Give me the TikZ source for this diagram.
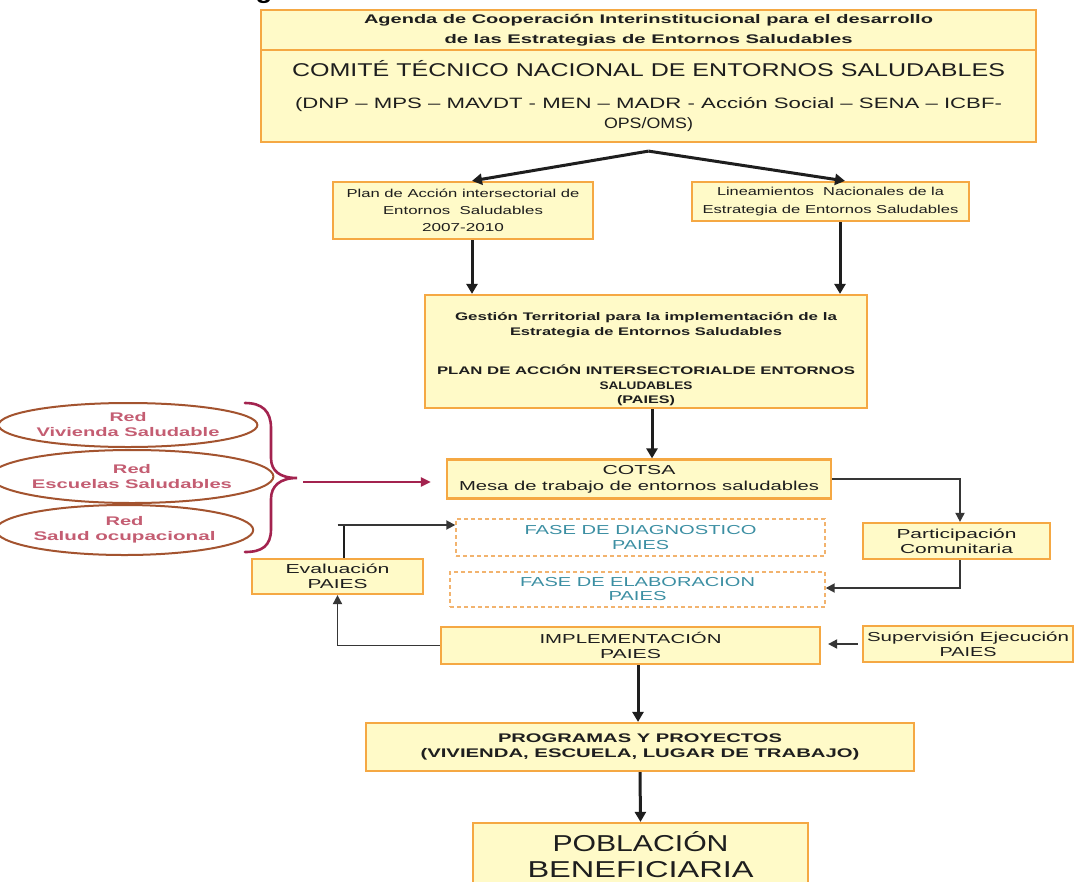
\documentclass[tikz,border=0pt]{standalone}
\usepackage{fontspec}
\setmainfont{Liberation Sans}
\usetikzlibrary{arrows.meta,shapes.geometric}

\definecolor{boxfill}{HTML}{FFFAC8}
\definecolor{boxline}{HTML}{F5A843}
\definecolor{dashline}{HTML}{F2B36E}
\definecolor{phase}{HTML}{3C8FA3}
\definecolor{netline}{HTML}{A3532F}
\definecolor{nettext}{HTML}{C45D72}
\definecolor{bracecol}{HTML}{A3234F}
\definecolor{ink}{HTML}{1E1E1E}
\definecolor{thinink}{HTML}{363636}

% scale one line of text horizontally to a given width (in pt)
\newlength\fitlen
\newcommand\fitw[2]{\settowidth\fitlen{#2}\pgfmathsetmacro\fitr{#1/\fitlen}\scalebox{\fitr}[1]{#2}}
\newcommand\fs[2]{\fontsize{#1}{#2}\selectfont}

\tikzset{
  box/.style={draw=boxline, fill=boxfill, line width=2.2pt, inner sep=0pt,
    align=center, text=ink},
  phasebox/.style={draw=dashline, fill=white, dash pattern=on 4pt off 3pt,
    line width=1.4pt, inner sep=0pt, align=center, text=phase},
  net/.style={ellipse, draw=netline, line width=2pt, inner sep=0pt,
    align=center, text=nettext, font=\bfseries\fs{12.5}{15}},
  txt/.style={inner sep=0pt, align=center, text=ink},
  main/.style={draw=ink, line width=3pt, -{Triangle[length=10pt,width=11pt]}},
  flow/.style={draw=thinink, line width=1.8pt, -{Triangle[length=9pt,width=9pt]}},
  plainline/.style={draw=ink, line width=1.6pt},
  redarrow/.style={draw=bracecol, line width=2.4pt, -{Triangle[length=10pt,width=9pt]}},
}

\begin{document}
\begin{tikzpicture}[x=1pt, y=-1pt]
\useasboundingbox (0,0) rectangle (1076,881);
\clip (0,0) rectangle (1076,881);
\fill[white] (0,0) rectangle (1076,881);

% heading, cut by the upper edge
\node[inner sep=0pt, anchor=base west, text=black, font=\bfseries\fs{24}{26}] (heading) at (25,-2)
  {\fitw{585}{Gráfico 1. Estrategia de entornos saludables}};

% upper block
\node[box, minimum width=775pt, minimum height=40pt, font=\bfseries\fs{12.5}{20}] (agenda) at (648.5,30)
  {\fitw{569}{Agenda de Cooperación Interinstitucional para el desarrollo}\\
   \fitw{408}{de las Estrategias de Entornos Saludables}};
\node[box, minimum width=775pt, minimum height=92pt, font=\fs{15}{20}] (comite) at (648.5,96)
  {{\fs{18.5}{20}\fitw{713}{COMITÉ TÉCNICO NACIONAL DE ENTORNOS SALUDABLES}}\\[11.5pt]
   \fitw{707}{(DNP – MPS – MAVDT - MEN – MADR - Acción Social – SENA – ICBF-}\\
   \fitw{89}{OPS/OMS)}};

% second level
\node[box, minimum width=260pt, minimum height=57pt, font=\fs{11.5}{17}] (plan) at (463,210.5)
  {\fitw{233}{Plan de Acción intersectorial de}\\
   \fitw{160}{Entornos\ \ Saludables}\\
   \fitw{82}{2007-2010}};
\node[box, minimum width=277pt, minimum height=39pt, font=\fs{11.5}{18}] (lin) at (830.5,201.5)
  {\fitw{227}{Lineamientos\ \ Nacionales de la}\\
   \fitw{256}{Estrategia de Entornos Saludables}};

% territorial management
\node[box, minimum width=442pt, minimum height=113pt] (gest) at (646,351.5) {};
\node[txt, font=\bfseries\fs{11}{14.5}] (gesttext) at (646,359.5)
  {\fitw{382}{Gestión Territorial para la implementación de la}\\
   \fitw{272}{Estrategia de Entornos Saludables}\\[25pt]
   \fitw{418}{PLAN DE ACCIÓN INTERSECTORIALDE ENTORNOS}\\
   \fitw{93}{SALUDABLES}\\
   \fitw{58}{(PAIES)}};

% working table and phases
\node[box, minimum width=384pt, minimum height=39pt, font=\fs{13}{16}] (cotsa) at (639,479)
  {\fitw{73}{COTSA}\\ \fitw{360}{Mesa de trabajo de entornos saludables}};
\node[phasebox, minimum width=369pt, minimum height=37pt, font=\fs{13}{15}] (diag) at (640.5,537.5)
  {\fitw{232}{FASE DE DIAGNOSTICO}\\ \fitw{57}{PAIES}};
\node[phasebox, minimum width=375pt, minimum height=35pt, font=\fs{13}{14}] (elab) at (637.5,589.5)
  {\fitw{235}{FASE DE ELABORACION}\\ \fitw{58}{PAIES}};
\node[box, minimum width=379pt, minimum height=37pt, font=\fs{13}{15}] (impl) at (630.5,645.5)
  {\fitw{182}{IMPLEMENTACIÓN}\\ \fitw{61}{PAIES}};

% side boxes
\node[box, minimum width=187pt, minimum height=36pt, font=\fs{13}{15}] (part) at (956.5,541)
  {\fitw{120}{Participación}\\ \fitw{113}{Comunitaria}};
\node[box, minimum width=210pt, minimum height=36pt, font=\fs{13}{15}] (sup) at (968,644)
  {\fitw{202}{Supervisión Ejecución}\\ \fitw{57}{PAIES}};
\node[box, minimum width=171pt, minimum height=35pt, font=\fs{13}{15}] (eval) at (337.5,576.5)
  {\fitw{104}{Evaluación}\\ \fitw{60}{PAIES}};

% programmes and population
\node[box, minimum width=548pt, minimum height=48pt, font=\bfseries\fs{12.5}{15}] (prog) at (640,747)
  {\fitw{284}{PROGRAMAS Y PROYECTOS}\\
   \fitw{439}{(VIVIENDA, ESCUELA, LUGAR DE TRABAJO)}};
\node[box, minimum width=335pt, minimum height=64pt, font=\fs{23}{26}] (pob) at (640.5,855)
  {\fitw{176}{POBLACIÓN}\\ \fitw{226}{BENEFICIARIA}};

% networks
\node[net, minimum width=238pt, minimum height=44pt] (red1) at (128,425)
  {\fitw{37}{Red}\\ \fitw{183}{Vivienda Saludable}};
\node[net, minimum width=232pt, minimum height=53pt] (red2) at (132,476.5)
  {\fitw{38}{Red}\\ \fitw{200}{Escuelas Saludables}};
\node[net, minimum width=215pt, minimum height=50pt] (red3) at (124.5,530)
  {\fitw{38}{Red}\\ \fitw{182}{Salud ocupacional}};

% brace gathering the networks
\draw[bracecol, line width=2.6pt, line cap=round]
  (245,403) .. controls (262,403) and (271,411) .. (271,428)
  -- (271,458) .. controls (271,471) and (280,478) .. (297,478)
  .. controls (280,478) and (271,486) .. (271,499)
  -- (271,529) .. controls (271,546) and (262,552) .. (245,552);
\coordinate (bracetip) at (303,482);

% connectors
\coordinate (apex) at ([yshift=-8pt]comite.south);
\draw[main] (apex) -- ([xshift=9pt]plan.north);
\draw[main] (apex) -- ([xshift=14.5pt]lin.north);
\draw[main] ([xshift=9pt]plan.south) -- ([xshift=9pt]plan.south |- gest.north);
\draw[main] ([xshift=9.5pt]lin.south) -- ([xshift=9.5pt]lin.south |- gest.north);
\draw[main] ([xshift=6pt]gest.south) -- ([xshift=6pt]gest.south |- cotsa.north);
\draw[redarrow] (bracetip) -- ([xshift=-15pt]cotsa.west |- bracetip);
\draw[flow] (cotsa.east) -| ([xshift=3.5pt]part.north);
\draw[flow] ([xshift=3.5pt]part.south) |- ([yshift=1.5pt]elab.east);
\draw[flow] ([xshift=-4pt]sup.west) -- ([xshift=7pt]impl.east |- sup.west);
\draw[flow] (impl.west) -| (eval.south);
\coordinate (diagin) at ([yshift=12.5pt]diag.west);
\draw[plainline] ([xshift=6.5pt]eval.north) -- ([xshift=6.5pt]eval.north |- diagin);
\draw[flow] (eval.north |- diagin) -- (diagin);
\draw[main] ([xshift=7.5pt]impl.south) -- ([xshift=7.5pt]impl.south |- prog.north);
\draw[main] (prog.south) -- (pob.north);
\end{tikzpicture}
\end{document}
